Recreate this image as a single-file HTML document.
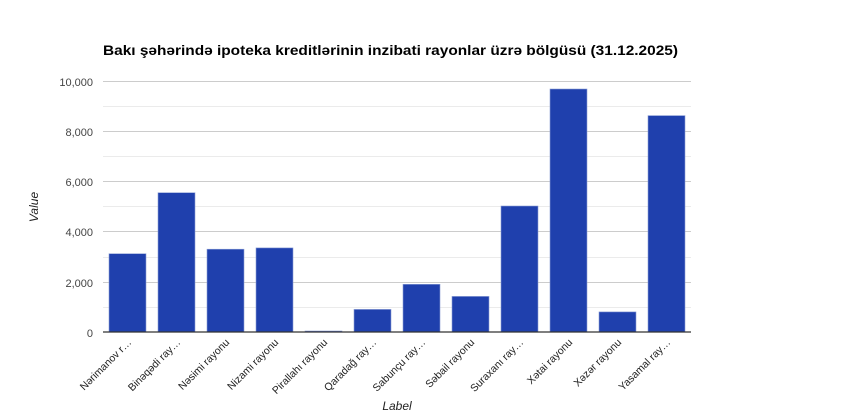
<!DOCTYPE html>
<html><head><meta charset="utf-8"><style>body{margin:0;background:#fff}svg{display:block}text{font-family:"Liberation Sans",Arial,sans-serif}</style></head><body>
<svg width="846" height="418" xmlns="http://www.w3.org/2000/svg">
<text x="103" y="55" font-size="14" font-weight="bold" fill="#000" textLength="575" lengthAdjust="spacingAndGlyphs">Bakı şəhərində ipoteka kreditlərinin inzibati rayonlar üzrə bölgüsü (31.12.2025)</text>
<g stroke="#ebebeb" stroke-width="1">
<line x1="103" x2="691" y1="106.5" y2="106.5"/><line x1="103" x2="691" y1="156.5" y2="156.5"/><line x1="103" x2="691" y1="206.5" y2="206.5"/><line x1="103" x2="691" y1="257.5" y2="257.5"/><line x1="103" x2="691" y1="307.5" y2="307.5"/>
</g>
<g stroke="#cccccc" stroke-width="1">
<line x1="103" x2="691" y1="81.5" y2="81.5"/><line x1="103" x2="691" y1="131.5" y2="131.5"/><line x1="103" x2="691" y1="181.5" y2="181.5"/><line x1="103" x2="691" y1="231.5" y2="231.5"/><line x1="103" x2="691" y1="282.5" y2="282.5"/>
</g>
<g font-size="11" fill="#444" text-anchor="end">
<text x="93" y="86">10,000</text><text x="93" y="136">8,000</text><text x="93" y="186">6,000</text><text x="93" y="236">4,000</text><text x="93" y="287">2,000</text><text x="93" y="337">0</text>
</g>
<g fill="#1f40ad" stroke="#8ea0d6" stroke-width="0.6">
<rect x="109" y="253.7" width="37" height="78.3"/>
<rect x="158" y="192.7" width="37" height="139.3"/>
<rect x="207" y="249.2" width="37" height="82.8"/>
<rect x="256" y="247.9" width="37" height="84.1"/>
<rect x="305" y="331" width="37" height="1"/>
<rect x="354" y="309.4" width="37" height="22.6"/>
<rect x="403" y="284.3" width="37" height="47.7"/>
<rect x="452" y="296.4" width="37" height="35.6"/>
<rect x="501" y="206" width="37" height="126"/>
<rect x="550" y="89" width="37" height="243"/>
<rect x="599" y="311.9" width="37" height="20.1"/>
<rect x="648" y="115.6" width="37" height="216.4"/>
</g>
<line x1="103" x2="691" y1="332" y2="332" stroke="#333" stroke-width="1.2"/>
<g font-size="10.5" fill="#222" text-anchor="end">
<text transform="translate(132,343) rotate(-45)">Nərimanov r…</text>
<text transform="translate(181,343) rotate(-45)">Binəqədi ray…</text>
<text transform="translate(230,343) rotate(-45)">Nəsimi rayonu</text>
<text transform="translate(279,343) rotate(-45)">Nizami rayonu</text>
<text transform="translate(328,343) rotate(-45)">Pirallahı rayonu</text>
<text transform="translate(377,343) rotate(-45)">Qaradağ ray…</text>
<text transform="translate(426,343) rotate(-45)">Sabunçu ray…</text>
<text transform="translate(475,343) rotate(-45)">Səbail rayonu</text>
<text transform="translate(524,343) rotate(-45)">Suraxanı ray…</text>
<text transform="translate(573,343) rotate(-45)">Xətai rayonu</text>
<text transform="translate(622,343) rotate(-45)">Xəzər rayonu</text>
<text transform="translate(671,343) rotate(-45)">Yasamal ray…</text>
</g>
<text x="397" y="410" font-size="12" font-style="italic" fill="#222" text-anchor="middle">Label</text>
<text transform="translate(38,207) rotate(-90)" font-size="12" font-style="italic" fill="#222" text-anchor="middle">Value</text>
</svg>
</body></html>
